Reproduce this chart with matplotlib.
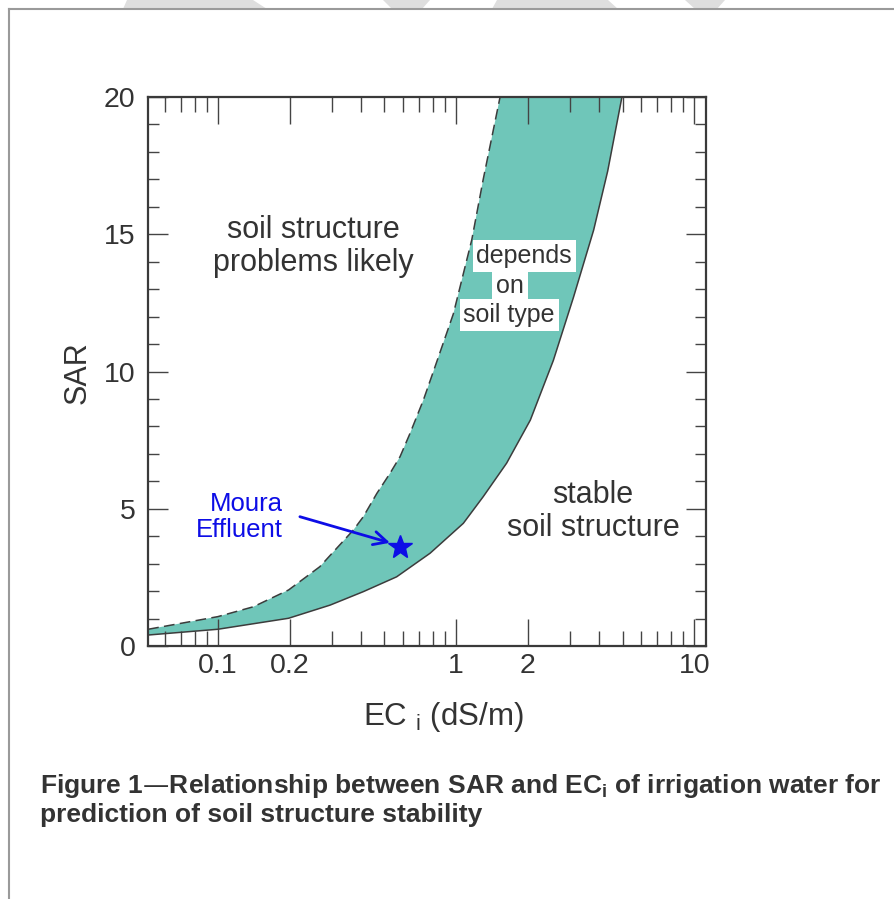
import matplotlib
matplotlib.use("Agg")
import matplotlib.pyplot as plt
from matplotlib.patches import Polygon
from matplotlib.lines import Line2D

plt.rcParams['font.family'] = ['Liberation Sans', 'DejaVu Sans']

# upper (dashed) boundary of the band
ec_upper = [0.051, 0.1, 0.141, 0.198, 0.268, 0.296, 0.371, 0.408, 0.465, 0.528, 0.582, 0.641, 0.729, 0.803, 0.974, 1.164, 1.30, 1.53]
sar_upper = [0.61, 1.07, 1.43, 2.04, 2.89, 3.30, 4.23, 4.71, 5.56, 6.29, 6.9, 7.75, 8.96, 10.0, 12.1, 14.8, 17.0, 20.0]

# lower (solid) boundary of the band
ec_lower = [0.051, 0.1, 0.198, 0.296, 0.408, 0.563, 0.778, 1.073, 1.30, 1.63, 2.05, 2.56, 3.11, 3.78, 4.33, 4.97]
sar_lower = [0.40, 0.61, 1.01, 1.49, 1.98, 2.52, 3.38, 4.47, 5.44, 6.66, 8.23, 10.4, 12.7, 15.15, 17.3, 20.0]

# Moura effluent point
moura_ec = 0.582
moura_sar = 3.62

x_major = [0.1, 0.2, 1, 2, 10]
x_labels = ['0.1', '0.2', '1', '2', '10']
x_minor = [0.06, 0.07, 0.08, 0.09, 0.3, 0.4, 0.5, 0.6, 0.7, 0.8, 0.9, 3, 4, 5, 6, 7, 8, 9]
y_major = [0, 5, 10, 15, 20]
y_minor = list(range(0, 21))

band_col = '#6fc6b9'
line_col = '#3c3c3c'
txt_col = '#333333'
blue = '#0d0de6'

W, H = 895, 899
fig = plt.figure(figsize=(W / 100, H / 100), dpi=100)
fig.patch.set_facecolor('white')

# faint page bits at the top and the page frame
for pts in ([(127, 0), (253, 0), (267, 9), (123, 9)],
            [(383, 0), (430, 0), (422, 9), (392, 9)],
            [(497, 0), (608, 0), (618, 9), (492, 9)],
            [(685, 0), (725, 0), (717, 9), (695, 9)]):
    fig.patches.append(Polygon([(x / W, 1 - y / H) for x, y in pts], closed=True,
                               transform=fig.transFigure, facecolor='#dedede', edgecolor='none'))
fig.lines.append(Line2D([9.5 / W, 9.5 / W], [0, 1 - 9.3 / H], transform=fig.transFigure, color='#9a9a9a', lw=1.5))
fig.lines.append(Line2D([9.5 / W, 1], [1 - 9.3 / H, 1 - 9.3 / H], transform=fig.transFigure, color='#9a9a9a', lw=1.5))

ax = fig.add_axes([148 / W, 1 - 646 / H, 558 / W, 549 / H])
ax.set_xscale('log')
ax.set_xlim(0.0509, 11.2)
ax.set_ylim(0, 20)

# band between the two curves
ax.fill(ec_upper + ec_lower[::-1], sar_upper + sar_lower[::-1], color=band_col, lw=0, zorder=1)
ax.plot(ec_upper, sar_upper, color=line_col, lw=1.1, dashes=(7, 3.5), zorder=2)
ax.plot(ec_lower, sar_lower, color=line_col, lw=1.1, zorder=2)

ax.set_xticks(x_major)
ax.set_xticklabels(x_labels)
ax.set_xticks(x_minor, minor=True)
ax.xaxis.set_minor_formatter(plt.NullFormatter())
ax.set_yticks(y_major)
ax.set_yticks(y_minor, minor=True)

ax.tick_params(axis='x', which='major', direction='in', top=True, length=19.5, width=1, color='#444444',
               labelsize=20.5, labelcolor=txt_col, pad=5)
ax.tick_params(axis='x', which='minor', direction='in', top=True, length=10.8, width=1, color='#444444')
ax.tick_params(axis='y', which='major', direction='in', right=True, length=14.5, width=1, color='#444444',
               labelsize=20.5, labelcolor=txt_col, pad=9)
ax.tick_params(axis='y', which='minor', direction='in', right=True, length=8, width=1, color='#444444')
for s in ax.spines.values():
    s.set_color('#3a3a3a')
    s.set_linewidth(1.6)

ax.set_ylabel('SAR', fontsize=22, color=txt_col, ha='center', va='center')
ax.yaxis.set_label_coords((77.5 - 148) / 558, (646 - 373) / 549)
ax.set_xlabel(r'EC $_\mathregular{i}$ (dS/m)', fontsize=22.5, color=txt_col, ha='center', va='center')
ax.xaxis.set_label_coords((443 - 148) / 558, (646 - 717) / 549)

ax.text(0.251, 14.55, 'soil structure\nproblems likely', fontsize=22, color=txt_col,
        ha='center', va='center', linespacing=1.15)
ax.text(3.76, 4.9, 'stable\nsoil structure', fontsize=22, color=txt_col,
        ha='center', va='center', linespacing=1.15)
for label, x, y in [('depends', 1.93, 14.2), ('on', 1.686, 13.1), ('soil type', 1.67, 12.06)]:
    ax.text(x, y, label, fontsize=18, color=txt_col, ha='center', va='center',
            bbox=dict(facecolor='white', edgecolor='none', boxstyle='square,pad=0.15'))

ax.plot(moura_ec, moura_sar, marker='*', ms=18, color=blue, mec=blue, zorder=4)
ax.annotate('', xy=(0.528, 3.76), xytext=(0.221, 4.71),
            arrowprops=dict(arrowstyle='->', color=blue, lw=2, mutation_scale=24, shrinkA=0, shrinkB=0))
ax.text(0.1875, 4.70, 'Moura\nEffluent', fontsize=18.5, color=blue, ha='right', va='center',
        multialignment='right', linespacing=1.15)

fig.text(40 / W, 1 - 786 / H, r'Figure 1—Relationship between SAR and EC$_\mathregular{i}$ of irrigation water for',
         fontsize=19, fontweight='bold', color=txt_col, va='center')
fig.text(40 / W, 1 - 815 / H, 'prediction of soil structure stability',
         fontsize=19, fontweight='bold', color=txt_col, va='center')

fig.savefig('out.png', dpi=100, facecolor='white')
